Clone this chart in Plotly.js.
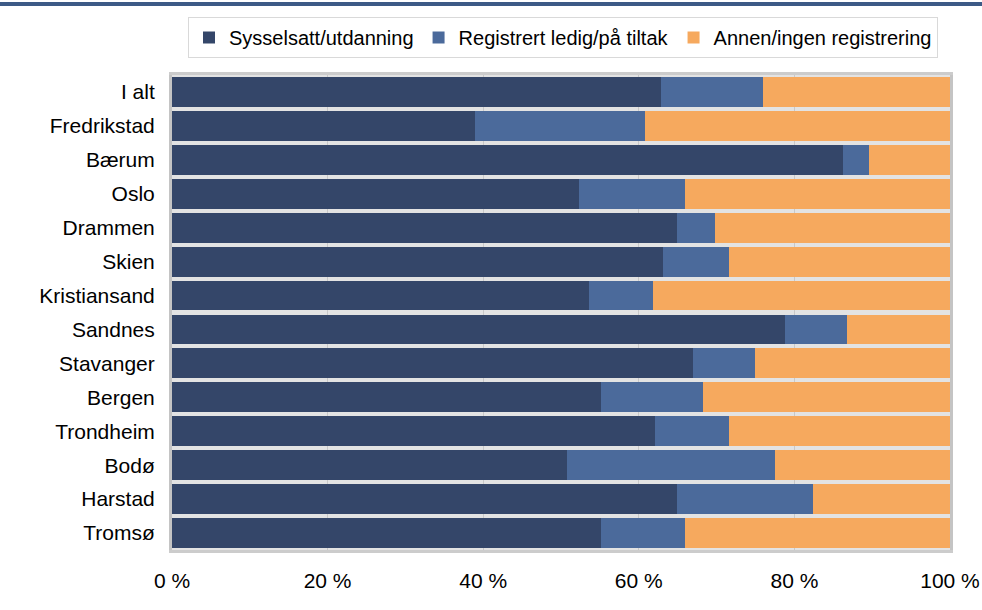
<!DOCTYPE html>
<html>
<head>
<meta charset="utf-8">
<script src="https://cdn.plot.ly/plotly-3.0.1.min.js"></script>
<style>html,body{margin:0;padding:0;background:#fff;}#chart{width:982px;height:610px;}</style>
</head>
<body>
<div id="chart"></div>
<script>
const categories = ["I alt","Fredrikstad","Bærum","Oslo","Drammen","Skien","Kristiansand","Sandnes","Stavanger","Bergen","Trondheim","Bodø","Harstad","Tromsø"];
const sysselsatt = [62.9, 38.9, 86.2, 52.3, 64.9, 63.1, 53.6, 78.8, 67.0, 55.1, 62.1, 50.8, 64.9, 55.1];
const ledig      = [13.1, 21.9,  3.4, 13.6,  4.9,  8.5,  8.2,  8.0,  7.9, 13.2,  9.5, 26.7, 17.5, 10.8];
const annen      = categories.map((c, i) => +(100 - sysselsatt[i] - ledig[i]).toFixed(1));
const seriesNames = ["Sysselsatt/utdanning", "Registrert ledig/på tiltak", "Annen/ingen registrering"];
const tickVals = [0, 20, 40, 60, 80, 100];
const tickText = ["0 %", "20 %", "40 %", "60 %", "80 %", "100 %"];

const colors = ["#344669", "#4b6a9b", "#f6a95e"];
const seriesData = [sysselsatt, ledig, annen];
const font = {family: "Liberation Sans, Arial, sans-serif", size: 21, color: "#000"};
const legendFont = {family: "Liberation Sans, Arial, sans-serif", size: 20, color: "#000"};

const traces = seriesData.map((vals, k) => ({
  type: "bar", orientation: "h",
  y: categories, x: vals, name: seriesNames[k],
  marker: {color: colors[k], line: {width: 0}},
  hoverinfo: "x+y+name"
}));

const W = 982, H = 610, ml = 172, mr = 32, mt = 75, mb = 60;
const pw = W - ml - mr, ph = H - mt - mb;

const layout = {
  width: W, height: H,
  margin: {l: ml, r: mr, t: mt, b: mb, pad: 0},
  barmode: "stack", bargap: 0.12,
  paper_bgcolor: "#ffffff", plot_bgcolor: "#e3e3e3",
  font: font,
  showlegend: true,
  legend: {
    orientation: "h", x: (188 - ml) / pw, xanchor: "left", y: (H - mb - 17) / ph, yanchor: "top",
    bordercolor: "#d9d9d9", borderwidth: 1, font: legendFont, traceorder: "normal",
    itemclick: false, itemdoubleclick: false
  },
  xaxis: {
    range: [0, 100], tickvals: tickVals, ticktext: tickText,
    showgrid: true, gridcolor: "#c8c8c8", gridwidth: 1, zeroline: false,
    ticks: "outside", ticklen: 10, tickcolor: "rgba(0,0,0,0)",
    showline: true, linecolor: "#cccccc", linewidth: 3, mirror: true,
    tickfont: font, fixedrange: true
  },
  yaxis: {
    autorange: "reversed", type: "category",
    ticks: "outside", ticklen: 10, tickcolor: "rgba(0,0,0,0)",
    showline: true, linecolor: "#c4c4c4", linewidth: 3, mirror: true,
    showgrid: false, tickfont: font, fixedrange: true
  },
  shapes: [{
    type: "line", xref: "paper", yref: "paper",
    x0: -ml / pw, x1: (W - ml) / pw, y0: (H - mb - 4) / ph, y1: (H - mb - 4) / ph,
    line: {color: "#3d5a86", width: 4}
  }]
};

Plotly.newPlot("chart", traces, layout, {displayModeBar: false, staticPlot: false});
</script>
</body>
</html>
